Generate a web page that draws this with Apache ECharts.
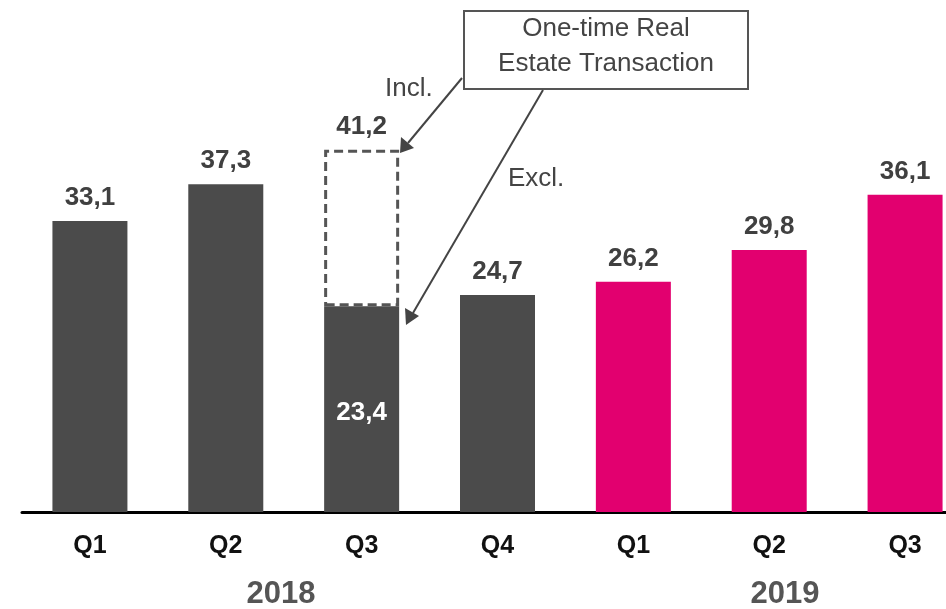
<!DOCTYPE html>
<html><head><meta charset="utf-8">
<script src="https://cdn.jsdelivr.net/npm/echarts@6/dist/echarts.min.js"></script>
<style>html,body{margin:0;padding:0;background:#fff}#c{width:946px;height:609px}</style>
</head><body><div id="c"></div>
<script>
const categories = ['Q1','Q2','Q3','Q4','Q1','Q2','Q3'];
const years = ['2018','2018','2018','2018','2019','2019','2019'];
const exclValues = [33.1, 37.3, 23.4, 24.7, 26.2, 29.8, 36.1];
const inclTotals = [null, null, 41.2, null, null, null, null];
const yearColors = {'2018':'#4b4b4b','2019':'#e2006f'};

function hasFont(name){
  const c = document.createElement('canvas').getContext('2d');
  c.font = 'bold 40px monospace'; const a = c.measureText('33,1 Q2018').width;
  c.font = 'bold 40px "' + name + '", monospace'; const b = c.measureText('33,1 Q2018').width;
  return Math.abs(a-b) > 1;
}
const NARROW = hasFont('Liberation Sans Narrow');
const FONT = NARROW ? '"Liberation Sans Narrow",Arial,sans-serif' : '"Liberation Sans",Arial,sans-serif';
const S = NARROW ? 1 : 0.86;
const LBL = Math.round(30*S), CAT = Math.round(29*S), YR = Math.round(36*S);
const fmt = v => String(v).replace('.', ',');

const chart = echarts.init(document.getElementById('c'));
const extra = inclTotals.map((t,i) => t == null ? null : +(t - exclValues[i]).toFixed(1));

chart.setOption({
  animation:false,
  grid:{left:22, width:951, top:11, height:501, containLabel:false, outerBoundsMode:'none'},
  xAxis:{type:'category', data:categories,
    axisLine:{show:true, lineStyle:{color:'#000', width:3}},
    axisTick:{show:false},
    axisLabel:{color:'#111', fontFamily:FONT, fontWeight:'bold', fontSize:CAT, margin:22}},
  yAxis:{type:'value', min:0, max:57, show:false, splitLine:{show:false}},
  series:[
    {type:'bar', stack:'s', barWidth:75,
     data: exclValues.map((v,i)=>({value:v, itemStyle:{color:yearColors[years[i]]},
        label: inclTotals[i]!=null ? {position:'inside', color:'#fff', offset:[0,4]} : {position:'top'}})),
     label:{show:true, fontFamily:FONT, fontWeight:'bold', fontSize:LBL, color:'#404040', distance:10,
        formatter:p=>fmt(p.value)}},
    {type:'bar', stack:'s', barWidth:75,
     data: extra.map((v,i)=>v==null?null:{value:v}),
     itemStyle:{color:'rgba(255,255,255,0)', borderColor:'#555', borderWidth:3, borderType:[9,5]},
     label:{show:true, position:'top', distance:10, fontFamily:FONT, fontWeight:'bold', fontSize:LBL, color:'#404040',
        formatter:p=>fmt(inclTotals[p.dataIndex])}}
  ],
  graphic:[
    {type:'text', x:281, y:594, style:{text:'2018', font:'bold '+YR+'px '+FONT, fill:'#555', align:'center', verticalAlign:'middle'}},
    {type:'text', x:785, y:594, style:{text:'2019', font:'bold '+YR+'px '+FONT, fill:'#555', align:'center', verticalAlign:'middle'}},
    {type:'rect', shape:{x:464, y:11, width:284, height:78}, style:{fill:'#fff', stroke:'#555', lineWidth:2}},
    {type:'text', x:606, y:29, style:{text:'One-time Real', font:'26px "Liberation Sans",Arial,sans-serif', fill:'#444', align:'center', verticalAlign:'middle'}},
    {type:'text', x:606, y:64, style:{text:'Estate Transaction', font:'26px "Liberation Sans",Arial,sans-serif', fill:'#444', align:'center', verticalAlign:'middle'}},
    {type:'text', x:385, y:89, style:{text:'Incl.', font:'26px "Liberation Sans",Arial,sans-serif', fill:'#444', verticalAlign:'middle'}},
    {type:'text', x:508, y:179, style:{text:'Excl.', font:'26px "Liberation Sans",Arial,sans-serif', fill:'#444', verticalAlign:'middle'}},
    {type:'line', shape:{x1:462, y1:78, x2:408, y2:143}, style:{stroke:'#444', lineWidth:2}},
    {type:'polygon', shape:{points:[[400,153],[401,137],[414,148]]}, style:{fill:'#444'}},
    {type:'line', shape:{x1:543, y1:90, x2:413, y2:313}, style:{stroke:'#444', lineWidth:2}},
    {type:'polygon', shape:{points:[[406,325],[405,308],[419,316]]}, style:{fill:'#444'}}
  ]
});
</script></body></html>
